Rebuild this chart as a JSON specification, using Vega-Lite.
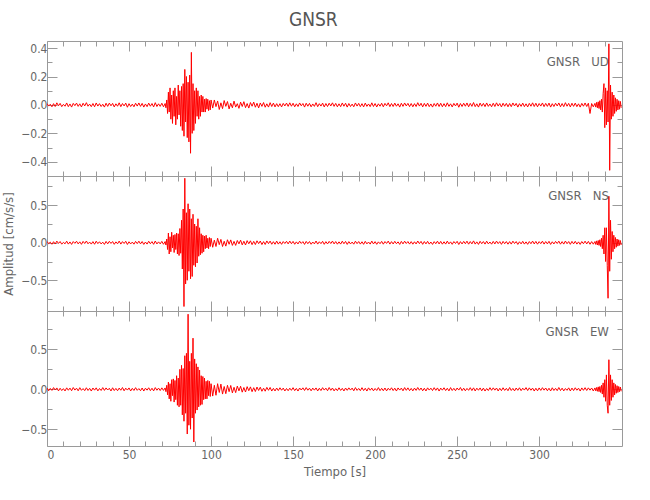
{
"$schema": "https://vega.github.io/schema/vega-lite/v6.json",
"padding": {"left": 2, "top": 10, "right": 5, "bottom": 5},
"title": {"text": "GNSR", "fontSize": 19, "fontWeight": "normal", "color": "#555555", "font": "DejaVu Sans Condensed, DejaVu Sans, sans-serif", "offset": 11, "anchor": "middle"},
"config": {
  "font": "DejaVu Sans Condensed, DejaVu Sans, sans-serif",
  "view": {"stroke": null},
  "axis": {"domainColor": "#9a9a9a", "tickColor": "#9a9a9a", "labelColor": "#666666", "titleColor": "#666666", "labelFontSize": 12, "titleFontSize": 13, "titleFontWeight": "normal", "grid": false, "domainWidth": 1, "tickWidth": 1, "labelFont": "DejaVu Sans Condensed, DejaVu Sans, sans-serif", "titleFont": "DejaVu Sans Condensed, DejaVu Sans, sans-serif"},
  "text": {"font": "DejaVu Sans Condensed, DejaVu Sans, sans-serif", "fontSize": 13, "color": "#666666"}
},
"datasets": {
"ud": [{"t":0,"v":0.01},{"t":1,"v":-0.008},{"t":2,"v":0.005},{"t":3,"v":-0.013},{"t":4,"v":0.009},{"t":5,"v":-0.011},{"t":6,"v":0.015},{"t":7,"v":-0.006},{"t":8,"v":0.011},{"t":9,"v":-0.012},{"t":10,"v":0.004},{"t":11,"v":-0.009},{"t":12,"v":0.014},{"t":13,"v":-0.012},{"t":14,"v":0.007},{"t":15,"v":-0.015},{"t":16,"v":0.011},{"t":17,"v":-0.005},{"t":18,"v":0.013},{"t":19,"v":-0.01},
{"t":20,"v":0.008},{"t":21,"v":-0.014},{"t":22,"v":0.012},{"t":23,"v":-0.007},{"t":24,"v":0.016},{"t":25,"v":-0.009},{"t":26,"v":0.006},{"t":27,"v":-0.012},{"t":28,"v":0.01},{"t":29,"v":-0.013},{"t":30,"v":0.014},{"t":31,"v":-0.008},{"t":32,"v":0.009},{"t":33,"v":-0.011},{"t":34,"v":0.005},{"t":35,"v":-0.015},{"t":36,"v":0.012},{"t":37,"v":-0.01},{"t":38,"v":0.013},{"t":39,"v":-0.006},
{"t":40,"v":0.011},{"t":41,"v":-0.014},{"t":42,"v":0.008},{"t":43,"v":-0.009},{"t":44,"v":0.015},{"t":45,"v":-0.012},{"t":46,"v":0.01},{"t":47,"v":-0.007},{"t":48,"v":0.013},{"t":49,"v":-0.016},{"t":50,"v":0.009},{"t":51,"v":-0.011},{"t":52,"v":0.006},{"t":53,"v":-0.013},{"t":54,"v":0.012},{"t":55,"v":-0.008},{"t":56,"v":0.014},{"t":57,"v":-0.01},{"t":58,"v":0.011},{"t":59,"v":-0.015},
{"t":60,"v":0.007},{"t":61,"v":-0.012},{"t":62,"v":0.013},{"t":63,"v":-0.009},{"t":64,"v":0.01},{"t":65,"v":-0.014},{"t":66,"v":0.016},{"t":67,"v":-0.011},{"t":68,"v":0.008},{"t":69,"v":-0.01},{"t":70,"v":0.012},{"t":71,"v":-0.013},{"t":72,"v":0.01},
{"t":72.5,"v":-0.02},{"t":73,"v":0.035},{"t":73.5,"v":-0.06},{"t":74,"v":0.09},{"t":74.5,"v":-0.05},{"t":75,"v":0.12},{"t":75.5,"v":-0.1},{"t":76,"v":0.07},{"t":76.5,"v":-0.13},{"t":77,"v":0.1},{"t":77.5,"v":-0.08},{"t":78,"v":0.12},{"t":78.5,"v":-0.14},{"t":79,"v":0.06},{"t":79.5,"v":-0.1},{"t":80,"v":0.14},{"t":80.5,"v":-0.07},{"t":81,"v":0.1},{"t":81.5,"v":-0.15},{"t":82,"v":0.13},{"t":82.5,"v":-0.18},{"t":83,"v":0.15},{"t":83.5,"v":-0.22},{"t":84,"v":0.25},{"t":84.5,"v":-0.12},{"t":85,"v":0.2},{"t":85.5,"v":-0.23},{"t":86,"v":0.16},{"t":86.5,"v":-0.26},{"t":87,"v":0.21},{"t":87.5,"v":-0.34},{"t":88,"v":0.37},{"t":88.5,"v":-0.2},{"t":89,"v":0.15},{"t":89.5,"v":-0.18},{"t":90,"v":0.1},{"t":90.5,"v":-0.13},{"t":91,"v":0.12},{"t":91.5,"v":-0.08},{"t":92,"v":0.1},{"t":92.5,"v":-0.1},{"t":93,"v":0.06},{"t":93.5,"v":-0.08},{"t":94,"v":0.07},{"t":94.5,"v":-0.05},{"t":95,"v":0.06},{"t":95.5,"v":-0.05},{"t":96,"v":0.04},{"t":96.5,"v":-0.05},{"t":97,"v":0.045},{"t":97.5,"v":-0.03},{"t":98,"v":0.04},{"t":98.5,"v":-0.04},{"t":99,"v":0.03},{"t":99.5,"v":-0.035},{"t":100,"v":0.035},
{"t":101,"v":-0.022},{"t":102,"v":0.035},{"t":103,"v":-0.012},{"t":104,"v":0.028},{"t":105,"v":-0.032},{"t":106,"v":0.015},{"t":107,"v":-0.026},{"t":108,"v":0.031},{"t":109,"v":-0.01},{"t":110,"v":0.024},{"t":111,"v":-0.028},{"t":112,"v":0.012},{"t":113,"v":-0.02},{"t":114,"v":0.027},{"t":115,"v":-0.015},{"t":116,"v":0.009},{"t":117,"v":-0.024},{"t":118,"v":0.02},{"t":119,"v":-0.011},{"t":120,"v":0.023},{"t":121,"v":-0.019},{"t":122,"v":0.01},{"t":123,"v":-0.022},{"t":124,"v":0.017},{"t":125,"v":-0.009},{"t":126,"v":0.02},{"t":127,"v":-0.016},{"t":128,"v":0.012},{"t":129,"v":-0.021},{"t":130,"v":0.014},{"t":131,"v":-0.01},{"t":132,"v":0.017},{"t":133,"v":-0.016},{"t":134,"v":0.008},{"t":135,"v":-0.015},{"t":136,"v":0.016},{"t":137,"v":-0.011},{"t":138,"v":0.013},{"t":139,"v":-0.014},{"t":140,"v":0.009},
{"t":141,"v":-0.012},{"t":142,"v":0.009},{"t":143,"v":-0.014},{"t":144,"v":0.011},{"t":145,"v":-0.007},{"t":146,"v":0.013},{"t":147,"v":-0.01},{"t":148,"v":0.015},{"t":149,"v":-0.009},{"t":150,"v":0.012},{"t":151,"v":-0.013},{"t":152,"v":0.008},{"t":153,"v":-0.011},{"t":154,"v":0.014},{"t":155,"v":-0.006},{"t":156,"v":0.01},{"t":157,"v":-0.015},{"t":158,"v":0.012},{"t":159,"v":-0.009},{"t":160,"v":0.011},
{"t":161,"v":-0.013},{"t":162,"v":0.007},{"t":163,"v":-0.01},{"t":164,"v":0.016},{"t":165,"v":-0.012},{"t":166,"v":0.009},{"t":167,"v":-0.008},{"t":168,"v":0.013},{"t":169,"v":-0.014},{"t":170,"v":0.01},{"t":171,"v":-0.011},{"t":172,"v":0.012},{"t":173,"v":-0.007},{"t":174,"v":0.015},{"t":175,"v":-0.01},{"t":176,"v":0.011},{"t":177,"v":-0.013},{"t":178,"v":0.008},{"t":179,"v":-0.012},{"t":180,"v":0.014},
{"t":181,"v":-0.009},{"t":182,"v":0.012},{"t":183,"v":-0.015},{"t":184,"v":0.01},{"t":185,"v":-0.011},{"t":186,"v":0.006},{"t":187,"v":-0.013},{"t":188,"v":0.014},{"t":189,"v":-0.008},{"t":190,"v":0.011},{"t":191,"v":-0.012},{"t":192,"v":0.009},{"t":193,"v":-0.014},{"t":194,"v":0.013},{"t":195,"v":-0.01},{"t":196,"v":0.007},{"t":197,"v":-0.012},{"t":198,"v":0.015},{"t":199,"v":-0.011},{"t":200,"v":0.01},
{"t":201,"v":-0.014},{"t":202,"v":0.008},{"t":203,"v":-0.009},{"t":204,"v":0.012},{"t":205,"v":-0.013},{"t":206,"v":0.011},{"t":207,"v":-0.006},{"t":208,"v":0.015},{"t":209,"v":-0.012},{"t":210,"v":0.01},{"t":211,"v":-0.011},{"t":212,"v":0.013},{"t":213,"v":-0.009},{"t":214,"v":0.008},{"t":215,"v":-0.015},{"t":216,"v":0.012},{"t":217,"v":-0.01},{"t":218,"v":0.014},{"t":219,"v":-0.007},{"t":220,"v":0.011},
{"t":221,"v":-0.012},{"t":222,"v":0.01},{"t":223,"v":-0.013},{"t":224,"v":0.009},{"t":225,"v":-0.011},{"t":226,"v":0.016},{"t":227,"v":-0.008},{"t":228,"v":0.012},{"t":229,"v":-0.014},{"t":230,"v":0.011},{"t":231,"v":-0.01},{"t":232,"v":0.013},{"t":233,"v":-0.012},{"t":234,"v":0.007},{"t":235,"v":-0.015},{"t":236,"v":0.01},{"t":237,"v":-0.009},{"t":238,"v":0.014},{"t":239,"v":-0.011},{"t":240,"v":0.012},
{"t":241,"v":-0.013},{"t":242,"v":0.009},{"t":243,"v":-0.012},{"t":244,"v":0.015},{"t":245,"v":-0.01},{"t":246,"v":0.008},{"t":247,"v":-0.014},{"t":248,"v":0.011},{"t":249,"v":-0.007},{"t":250,"v":0.013},{"t":251,"v":-0.016},{"t":252,"v":0.01},{"t":253,"v":-0.011},{"t":254,"v":0.012},{"t":255,"v":-0.009},{"t":256,"v":0.014},{"t":257,"v":-0.013},{"t":258,"v":0.011},{"t":259,"v":-0.01},{"t":260,"v":0.017},
{"t":261,"v":-0.012},{"t":262,"v":0.008},{"t":263,"v":-0.015},{"t":264,"v":0.013},{"t":265,"v":-0.009},{"t":266,"v":0.011},{"t":267,"v":-0.012},{"t":268,"v":0.014},{"t":269,"v":-0.01},{"t":270,"v":0.007},{"t":271,"v":-0.013},{"t":272,"v":0.012},{"t":273,"v":-0.011},{"t":274,"v":0.015},{"t":275,"v":-0.008},{"t":276,"v":0.01},{"t":277,"v":-0.014},{"t":278,"v":0.012},{"t":279,"v":-0.009},{"t":280,"v":0.011},
{"t":281,"v":-0.013},{"t":282,"v":0.01},{"t":283,"v":-0.012},{"t":284,"v":0.014},{"t":285,"v":-0.007},{"t":286,"v":0.011},{"t":287,"v":-0.015},{"t":288,"v":0.009},{"t":289,"v":-0.01},{"t":290,"v":0.013},{"t":291,"v":-0.012},{"t":292,"v":0.008},{"t":293,"v":-0.014},{"t":294,"v":0.011},{"t":295,"v":-0.009},{"t":296,"v":0.015},{"t":297,"v":-0.011},{"t":298,"v":0.012},{"t":299,"v":-0.013},{"t":300,"v":0.01},
{"t":301,"v":-0.008},{"t":302,"v":0.014},{"t":303,"v":-0.012},{"t":304,"v":0.011},{"t":305,"v":-0.01},{"t":306,"v":0.013},{"t":307,"v":-0.015},{"t":308,"v":0.009},{"t":309,"v":-0.011},{"t":310,"v":0.012},{"t":311,"v":-0.007},{"t":312,"v":0.014},{"t":313,"v":-0.013},{"t":314,"v":0.01},{"t":315,"v":-0.012},{"t":316,"v":0.016},{"t":317,"v":-0.009},{"t":318,"v":0.011},{"t":319,"v":-0.014},{"t":320,"v":0.012},
{"t":321,"v":-0.01},{"t":322,"v":0.013},{"t":323,"v":-0.012},{"t":324,"v":0.008},{"t":325,"v":-0.015},{"t":326,"v":0.011},{"t":327,"v":-0.009},{"t":328,"v":0.014},{"t":329,"v":-0.011},{"t":330,"v":0.012},{"t":331,"v":-0.06},{"t":332,"v":0.01},{"t":333,"v":-0.013},{"t":334,"v":0.011},
{"t":334.5,"v":-0.015},{"t":335,"v":0.018},{"t":335.5,"v":-0.02},{"t":336,"v":0.022},{"t":336.5,"v":-0.025},{"t":337,"v":0.03},{"t":337.5,"v":-0.035},{"t":338,"v":0.04},{"t":338.5,"v":-0.05},{"t":339,"v":0.08},{"t":339.5,"v":0.15},{"t":340,"v":-0.16},{"t":340.5,"v":0.12},{"t":341,"v":-0.14},{"t":341.5,"v":0.1},{"t":342,"v":-0.12},{"t":342.5,"v":0.43},{"t":343,"v":-0.46},{"t":343.5,"v":0.14},{"t":344,"v":-0.1},{"t":344.5,"v":0.09},{"t":345,"v":-0.08},{"t":345.5,"v":0.07},{"t":346,"v":-0.06},{"t":346.5,"v":0.05},{"t":347,"v":-0.045},{"t":347.5,"v":0.04},{"t":348,"v":-0.035},{"t":348.5,"v":0.03},{"t":349,"v":-0.03},{"t":349.5,"v":0.025},{"t":350,"v":-0.02}],
"ns": [{"t":0,"v":0.018},{"t":1,"v":-0.012},{"t":2,"v":0.008},{"t":3,"v":-0.02},{"t":4,"v":0.014},{"t":5,"v":-0.017},{"t":6,"v":0.022},{"t":7,"v":-0.009},{"t":8,"v":0.016},{"t":9,"v":-0.019},{"t":10,"v":0.006},{"t":11,"v":-0.014},{"t":12,"v":0.021},{"t":13,"v":-0.018},{"t":14,"v":0.011},{"t":15,"v":-0.022},{"t":16,"v":0.016},{"t":17,"v":-0.008},{"t":18,"v":0.02},{"t":19,"v":-0.015},
{"t":20,"v":0.012},{"t":21,"v":-0.021},{"t":22,"v":0.018},{"t":23,"v":-0.01},{"t":24,"v":0.023},{"t":25,"v":-0.014},{"t":26,"v":0.009},{"t":27,"v":-0.018},{"t":28,"v":0.015},{"t":29,"v":-0.02},{"t":30,"v":0.021},{"t":31,"v":-0.012},{"t":32,"v":0.013},{"t":33,"v":-0.016},{"t":34,"v":0.008},{"t":35,"v":-0.022},{"t":36,"v":0.018},{"t":37,"v":-0.015},{"t":38,"v":0.019},{"t":39,"v":-0.009},
{"t":40,"v":0.016},{"t":41,"v":-0.021},{"t":42,"v":0.012},{"t":43,"v":-0.014},{"t":44,"v":0.022},{"t":45,"v":-0.018},{"t":46,"v":0.015},{"t":47,"v":-0.01},{"t":48,"v":0.02},{"t":49,"v":-0.023},{"t":50,"v":0.013},{"t":51,"v":-0.016},{"t":52,"v":0.009},{"t":53,"v":-0.019},{"t":54,"v":0.018},{"t":55,"v":-0.012},{"t":56,"v":0.021},{"t":57,"v":-0.015},{"t":58,"v":0.016},{"t":59,"v":-0.022},
{"t":60,"v":0.01},{"t":61,"v":-0.018},{"t":62,"v":0.02},{"t":63,"v":-0.013},{"t":64,"v":0.015},{"t":65,"v":-0.021},{"t":66,"v":0.023},{"t":67,"v":-0.016},{"t":68,"v":0.012},{"t":69,"v":-0.015},{"t":70,"v":0.018},{"t":71,"v":-0.02},{"t":72,"v":0.016},
{"t":72.5,"v":-0.03},{"t":73,"v":0.05},{"t":73.5,"v":-0.09},{"t":74,"v":0.13},{"t":74.5,"v":-0.15},{"t":75,"v":0.08},{"t":75.5,"v":-0.12},{"t":76,"v":0.14},{"t":76.5,"v":-0.07},{"t":77,"v":0.1},{"t":77.5,"v":-0.13},{"t":78,"v":0.11},{"t":78.5,"v":-0.09},{"t":79,"v":0.13},{"t":79.5,"v":-0.15},{"t":80,"v":0.12},{"t":80.5,"v":-0.17},{"t":81,"v":0.19},{"t":81.5,"v":-0.14},{"t":82,"v":0.3},{"t":82.5,"v":-0.35},{"t":83,"v":0.45},{"t":83.5,"v":-0.85},{"t":84,"v":0.86},{"t":84.5,"v":-0.55},{"t":85,"v":0.4},{"t":85.5,"v":-0.5},{"t":86,"v":0.52},{"t":86.5,"v":-0.38},{"t":87,"v":0.45},{"t":87.5,"v":-0.48},{"t":88,"v":0.32},{"t":88.5,"v":-0.45},{"t":89,"v":0.38},{"t":89.5,"v":-0.3},{"t":90,"v":0.25},{"t":90.5,"v":-0.32},{"t":91,"v":0.22},{"t":91.5,"v":-0.27},{"t":92,"v":0.32},{"t":92.5,"v":-0.18},{"t":93,"v":0.2},{"t":93.5,"v":-0.16},{"t":94,"v":0.12},{"t":94.5,"v":-0.14},{"t":95,"v":0.1},{"t":95.5,"v":-0.12},{"t":96,"v":0.09},{"t":96.5,"v":-0.08},{"t":97,"v":0.1},{"t":97.5,"v":-0.07},{"t":98,"v":0.06},{"t":98.5,"v":-0.08},{"t":99,"v":0.07},{"t":99.5,"v":-0.05},{"t":100,"v":0.06},
{"t":101,"v":-0.06},{"t":102,"v":0.035},{"t":103,"v":-0.05},{"t":104,"v":0.06},{"t":105,"v":-0.025},{"t":106,"v":0.045},{"t":107,"v":-0.05},{"t":108,"v":0.02},{"t":109,"v":-0.045},{"t":110,"v":0.04},{"t":111,"v":-0.02},{"t":112,"v":0.038},{"t":113,"v":-0.035},{"t":114,"v":0.018},{"t":115,"v":-0.035},{"t":116,"v":0.03},{"t":117,"v":-0.015},{"t":118,"v":0.035},{"t":119,"v":-0.028},{"t":120,"v":0.02},{"t":121,"v":-0.03},{"t":122,"v":0.028},{"t":123,"v":-0.014},{"t":124,"v":0.026},{"t":125,"v":-0.025},{"t":126,"v":0.018},{"t":127,"v":-0.024},{"t":128,"v":0.026},{"t":129,"v":-0.012},{"t":130,"v":0.023},{"t":131,"v":-0.024},{"t":132,"v":0.015},{"t":133,"v":-0.023},{"t":134,"v":0.024},{"t":135,"v":-0.012},{"t":136,"v":0.022},{"t":137,"v":-0.02},{"t":138,"v":0.014},{"t":139,"v":-0.02},{"t":140,"v":0.022},
{"t":141,"v":-0.018},{"t":142,"v":0.013},{"t":143,"v":-0.021},{"t":144,"v":0.016},{"t":145,"v":-0.01},{"t":146,"v":0.019},{"t":147,"v":-0.015},{"t":148,"v":0.022},{"t":149,"v":-0.013},{"t":150,"v":0.018},{"t":151,"v":-0.02},{"t":152,"v":0.012},{"t":153,"v":-0.016},{"t":154,"v":0.021},{"t":155,"v":-0.009},{"t":156,"v":0.015},{"t":157,"v":-0.022},{"t":158,"v":0.018},{"t":159,"v":-0.013},{"t":160,"v":0.016},
{"t":161,"v":-0.02},{"t":162,"v":0.01},{"t":163,"v":-0.015},{"t":164,"v":0.023},{"t":165,"v":-0.018},{"t":166,"v":0.013},{"t":167,"v":-0.012},{"t":168,"v":0.019},{"t":169,"v":-0.021},{"t":170,"v":0.015},{"t":171,"v":-0.016},{"t":172,"v":0.018},{"t":173,"v":-0.01},{"t":174,"v":0.022},{"t":175,"v":-0.015},{"t":176,"v":0.016},{"t":177,"v":-0.019},{"t":178,"v":0.012},{"t":179,"v":-0.018},{"t":180,"v":0.021},
{"t":181,"v":-0.013},{"t":182,"v":0.018},{"t":183,"v":-0.022},{"t":184,"v":0.015},{"t":185,"v":-0.016},{"t":186,"v":0.009},{"t":187,"v":-0.019},{"t":188,"v":0.021},{"t":189,"v":-0.012},{"t":190,"v":0.016},{"t":191,"v":-0.018},{"t":192,"v":0.013},{"t":193,"v":-0.021},{"t":194,"v":0.019},{"t":195,"v":-0.015},{"t":196,"v":0.01},{"t":197,"v":-0.018},{"t":198,"v":0.022},{"t":199,"v":-0.016},{"t":200,"v":0.015},
{"t":201,"v":-0.021},{"t":202,"v":0.012},{"t":203,"v":-0.013},{"t":204,"v":0.018},{"t":205,"v":-0.019},{"t":206,"v":0.016},{"t":207,"v":-0.009},{"t":208,"v":0.022},{"t":209,"v":-0.018},{"t":210,"v":0.015},{"t":211,"v":-0.016},{"t":212,"v":0.019},{"t":213,"v":-0.013},{"t":214,"v":0.012},{"t":215,"v":-0.022},{"t":216,"v":0.018},{"t":217,"v":-0.015},{"t":218,"v":0.021},{"t":219,"v":-0.01},{"t":220,"v":0.016},
{"t":221,"v":-0.018},{"t":222,"v":0.015},{"t":223,"v":-0.019},{"t":224,"v":0.013},{"t":225,"v":-0.016},{"t":226,"v":0.023},{"t":227,"v":-0.012},{"t":228,"v":0.018},{"t":229,"v":-0.021},{"t":230,"v":0.016},{"t":231,"v":-0.015},{"t":232,"v":0.019},{"t":233,"v":-0.018},{"t":234,"v":0.01},{"t":235,"v":-0.022},{"t":236,"v":0.015},{"t":237,"v":-0.013},{"t":238,"v":0.021},{"t":239,"v":-0.016},{"t":240,"v":0.018},
{"t":241,"v":-0.019},{"t":242,"v":0.013},{"t":243,"v":-0.018},{"t":244,"v":0.022},{"t":245,"v":-0.015},{"t":246,"v":0.012},{"t":247,"v":-0.021},{"t":248,"v":0.016},{"t":249,"v":-0.01},{"t":250,"v":0.019},{"t":251,"v":-0.023},{"t":252,"v":0.015},{"t":253,"v":-0.016},{"t":254,"v":0.018},{"t":255,"v":-0.013},{"t":256,"v":0.021},{"t":257,"v":-0.019},{"t":258,"v":0.016},{"t":259,"v":-0.015},{"t":260,"v":0.025},
{"t":261,"v":-0.018},{"t":262,"v":0.012},{"t":263,"v":-0.022},{"t":264,"v":0.019},{"t":265,"v":-0.013},{"t":266,"v":0.016},{"t":267,"v":-0.018},{"t":268,"v":0.021},{"t":269,"v":-0.015},{"t":270,"v":0.01},{"t":271,"v":-0.019},{"t":272,"v":0.018},{"t":273,"v":-0.016},{"t":274,"v":0.022},{"t":275,"v":-0.012},{"t":276,"v":0.015},{"t":277,"v":-0.021},{"t":278,"v":0.018},{"t":279,"v":-0.013},{"t":280,"v":0.016},
{"t":281,"v":-0.019},{"t":282,"v":0.015},{"t":283,"v":-0.018},{"t":284,"v":0.021},{"t":285,"v":-0.01},{"t":286,"v":0.016},{"t":287,"v":-0.022},{"t":288,"v":0.013},{"t":289,"v":-0.015},{"t":290,"v":0.019},{"t":291,"v":-0.018},{"t":292,"v":0.012},{"t":293,"v":-0.021},{"t":294,"v":0.016},{"t":295,"v":-0.013},{"t":296,"v":0.022},{"t":297,"v":-0.016},{"t":298,"v":0.018},{"t":299,"v":-0.019},{"t":300,"v":0.015},
{"t":301,"v":-0.012},{"t":302,"v":0.021},{"t":303,"v":-0.018},{"t":304,"v":0.016},{"t":305,"v":-0.015},{"t":306,"v":0.019},{"t":307,"v":-0.022},{"t":308,"v":0.013},{"t":309,"v":-0.016},{"t":310,"v":0.018},{"t":311,"v":-0.01},{"t":312,"v":0.021},{"t":313,"v":-0.019},{"t":314,"v":0.015},{"t":315,"v":-0.018},{"t":316,"v":0.023},{"t":317,"v":-0.013},{"t":318,"v":0.016},{"t":319,"v":-0.021},{"t":320,"v":0.018},
{"t":321,"v":-0.015},{"t":322,"v":0.019},{"t":323,"v":-0.018},{"t":324,"v":0.012},{"t":325,"v":-0.022},{"t":326,"v":0.016},{"t":327,"v":-0.013},{"t":328,"v":0.021},{"t":329,"v":-0.016},{"t":330,"v":0.018},{"t":331,"v":-0.02},{"t":332,"v":0.015},{"t":333,"v":-0.019},{"t":334,"v":0.016},
{"t":334.5,"v":-0.022},{"t":335,"v":0.025},{"t":335.5,"v":-0.03},{"t":336,"v":0.03},{"t":336.5,"v":-0.035},{"t":337,"v":0.04},{"t":337.5,"v":-0.05},{"t":338,"v":0.06},{"t":338.5,"v":-0.08},{"t":339,"v":0.1},{"t":339.5,"v":-0.15},{"t":340,"v":0.2},{"t":340.5,"v":-0.25},{"t":341,"v":0.2},{"t":341.5,"v":-0.3},{"t":342,"v":-0.74},{"t":342.5,"v":0.62},{"t":343,"v":-0.38},{"t":343.5,"v":0.3},{"t":344,"v":-0.22},{"t":344.5,"v":0.15},{"t":345,"v":-0.12},{"t":345.5,"v":0.1},{"t":346,"v":-0.08},{"t":346.5,"v":0.07},{"t":347,"v":-0.06},{"t":347.5,"v":0.05},{"t":348,"v":-0.045},{"t":348.5,"v":0.04},{"t":349,"v":-0.035},{"t":349.5,"v":0.03},{"t":350,"v":-0.03}],
"ew": [{"t":0,"v":0.016},{"t":1,"v":-0.019},{"t":2,"v":0.011},{"t":3,"v":-0.014},{"t":4,"v":0.021},{"t":5,"v":-0.009},{"t":6,"v":0.017},{"t":7,"v":-0.02},{"t":8,"v":0.013},{"t":9,"v":-0.016},{"t":10,"v":0.008},{"t":11,"v":-0.021},{"t":12,"v":0.018},{"t":13,"v":-0.012},{"t":14,"v":0.015},{"t":15,"v":-0.018},{"t":16,"v":0.022},{"t":17,"v":-0.01},{"t":18,"v":0.014},{"t":19,"v":-0.019},
{"t":20,"v":0.02},{"t":21,"v":-0.013},{"t":22,"v":0.009},{"t":23,"v":-0.017},{"t":24,"v":0.019},{"t":25,"v":-0.015},{"t":26,"v":0.012},{"t":27,"v":-0.022},{"t":28,"v":0.016},{"t":29,"v":-0.011},{"t":30,"v":0.018},{"t":31,"v":-0.02},{"t":32,"v":0.01},{"t":33,"v":-0.015},{"t":34,"v":0.021},{"t":35,"v":-0.014},{"t":36,"v":0.017},{"t":37,"v":-0.009},{"t":38,"v":0.013},{"t":39,"v":-0.021},
{"t":40,"v":0.019},{"t":41,"v":-0.016},{"t":42,"v":0.011},{"t":43,"v":-0.018},{"t":44,"v":0.015},{"t":45,"v":-0.012},{"t":46,"v":0.022},{"t":47,"v":-0.019},{"t":48,"v":0.014},{"t":49,"v":-0.01},{"t":50,"v":0.017},{"t":51,"v":-0.021},{"t":52,"v":0.012},{"t":53,"v":-0.015},{"t":54,"v":0.02},{"t":55,"v":-0.013},{"t":56,"v":0.009},{"t":57,"v":-0.018},{"t":58,"v":0.016},{"t":59,"v":-0.022},
{"t":60,"v":0.014},{"t":61,"v":-0.011},{"t":62,"v":0.019},{"t":63,"v":-0.017},{"t":64,"v":0.013},{"t":65,"v":-0.02},{"t":66,"v":0.021},{"t":67,"v":-0.012},{"t":68,"v":0.015},{"t":69,"v":-0.016},{"t":70,"v":0.018},{"t":71,"v":-0.014},{"t":72,"v":0.017},
{"t":72.5,"v":-0.03},{"t":73,"v":0.05},{"t":73.5,"v":-0.07},{"t":74,"v":0.09},{"t":74.5,"v":-0.12},{"t":75,"v":0.07},{"t":75.5,"v":-0.15},{"t":76,"v":0.12},{"t":76.5,"v":-0.08},{"t":77,"v":0.13},{"t":77.5,"v":-0.16},{"t":78,"v":0.11},{"t":78.5,"v":-0.13},{"t":79,"v":0.17},{"t":79.5,"v":-0.2},{"t":80,"v":0.14},{"t":80.5,"v":-0.22},{"t":81,"v":0.25},{"t":81.5,"v":-0.2},{"t":82,"v":0.3},{"t":82.5,"v":-0.32},{"t":83,"v":0.26},{"t":83.5,"v":-0.4},{"t":84,"v":0.42},{"t":84.5,"v":-0.3},{"t":85,"v":0.45},{"t":85.5,"v":-0.56},{"t":86,"v":0.94},{"t":86.5,"v":-0.45},{"t":87,"v":0.35},{"t":87.5,"v":-0.5},{"t":88,"v":0.45},{"t":88.5,"v":-0.36},{"t":89,"v":0.64},{"t":89.5,"v":-0.66},{"t":90,"v":0.38},{"t":90.5,"v":-0.3},{"t":91,"v":0.32},{"t":91.5,"v":-0.26},{"t":92,"v":0.28},{"t":92.5,"v":-0.22},{"t":93,"v":0.24},{"t":93.5,"v":-0.2},{"t":94,"v":0.17},{"t":94.5,"v":-0.19},{"t":95,"v":0.16},{"t":95.5,"v":-0.13},{"t":96,"v":0.14},{"t":96.5,"v":-0.12},{"t":97,"v":0.1},{"t":97.5,"v":-0.12},{"t":98,"v":0.11},{"t":98.5,"v":-0.08},{"t":99,"v":0.1},{"t":99.5,"v":-0.09},{"t":100,"v":0.07},
{"t":101,"v":-0.085},{"t":102,"v":0.05},{"t":103,"v":-0.075},{"t":104,"v":0.07},{"t":105,"v":-0.04},{"t":106,"v":0.065},{"t":107,"v":-0.06},{"t":108,"v":0.035},{"t":109,"v":-0.055},{"t":110,"v":0.05},{"t":111,"v":-0.03},{"t":112,"v":0.048},{"t":113,"v":-0.045},{"t":114,"v":0.025},{"t":115,"v":-0.042},{"t":116,"v":0.04},{"t":117,"v":-0.02},{"t":118,"v":0.038},{"t":119,"v":-0.036},{"t":120,"v":0.022},{"t":121,"v":-0.034},{"t":122,"v":0.033},{"t":123,"v":-0.018},{"t":124,"v":0.03},{"t":125,"v":-0.03},{"t":126,"v":0.02},{"t":127,"v":-0.028},{"t":128,"v":0.028},{"t":129,"v":-0.015},{"t":130,"v":0.026},{"t":131,"v":-0.025},{"t":132,"v":0.014},{"t":133,"v":-0.024},{"t":134,"v":0.024},{"t":135,"v":-0.013},{"t":136,"v":0.023},{"t":137,"v":-0.022},{"t":138,"v":0.012},{"t":139,"v":-0.021},{"t":140,"v":0.016},
{"t":141,"v":-0.016},{"t":142,"v":0.019},{"t":143,"v":-0.012},{"t":144,"v":0.015},{"t":145,"v":-0.021},{"t":146,"v":0.01},{"t":147,"v":-0.018},{"t":148,"v":0.014},{"t":149,"v":-0.013},{"t":150,"v":0.02},{"t":151,"v":-0.017},{"t":152,"v":0.011},{"t":153,"v":-0.022},{"t":154,"v":0.016},{"t":155,"v":-0.009},{"t":156,"v":0.018},{"t":157,"v":-0.015},{"t":158,"v":0.021},{"t":159,"v":-0.012},{"t":160,"v":0.014},
{"t":161,"v":-0.019},{"t":162,"v":0.015},{"t":163,"v":-0.011},{"t":164,"v":0.017},{"t":165,"v":-0.021},{"t":166,"v":0.013},{"t":167,"v":-0.016},{"t":168,"v":0.02},{"t":169,"v":-0.01},{"t":170,"v":0.014},{"t":171,"v":-0.018},{"t":172,"v":0.022},{"t":173,"v":-0.013},{"t":174,"v":0.016},{"t":175,"v":-0.02},{"t":176,"v":0.009},{"t":177,"v":-0.017},{"t":178,"v":0.019},{"t":179,"v":-0.014},{"t":180,"v":0.012},
{"t":181,"v":-0.021},{"t":182,"v":0.016},{"t":183,"v":-0.013},{"t":184,"v":0.018},{"t":185,"v":-0.01},{"t":186,"v":0.015},{"t":187,"v":-0.019},{"t":188,"v":0.021},{"t":189,"v":-0.014},{"t":190,"v":0.011},{"t":191,"v":-0.017},{"t":192,"v":0.02},{"t":193,"v":-0.016},{"t":194,"v":0.013},{"t":195,"v":-0.022},{"t":196,"v":0.018},{"t":197,"v":-0.012},{"t":198,"v":0.015},{"t":199,"v":-0.019},{"t":200,"v":0.01},
{"t":201,"v":-0.015},{"t":202,"v":0.021},{"t":203,"v":-0.017},{"t":204,"v":0.012},{"t":205,"v":-0.018},{"t":206,"v":0.016},{"t":207,"v":-0.02},{"t":208,"v":0.013},{"t":209,"v":-0.011},{"t":210,"v":0.019},{"t":211,"v":-0.016},{"t":212,"v":0.014},{"t":213,"v":-0.022},{"t":214,"v":0.017},{"t":215,"v":-0.01},{"t":216,"v":0.015},{"t":217,"v":-0.019},{"t":218,"v":0.021},{"t":219,"v":-0.013},{"t":220,"v":0.018},
{"t":221,"v":-0.017},{"t":222,"v":0.011},{"t":223,"v":-0.02},{"t":224,"v":0.015},{"t":225,"v":-0.014},{"t":226,"v":0.022},{"t":227,"v":-0.012},{"t":228,"v":0.016},{"t":229,"v":-0.019},{"t":230,"v":0.013},{"t":231,"v":-0.021},{"t":232,"v":0.018},{"t":233,"v":-0.01},{"t":234,"v":0.014},{"t":235,"v":-0.016},{"t":236,"v":0.02},{"t":237,"v":-0.013},{"t":238,"v":0.017},{"t":239,"v":-0.022},{"t":240,"v":0.015},
{"t":241,"v":-0.011},{"t":242,"v":0.019},{"t":243,"v":-0.016},{"t":244,"v":0.013},{"t":245,"v":-0.02},{"t":246,"v":0.021},{"t":247,"v":-0.015},{"t":248,"v":0.012},{"t":249,"v":-0.018},{"t":250,"v":0.016},{"t":251,"v":-0.01},{"t":252,"v":0.022},{"t":253,"v":-0.017},{"t":254,"v":0.014},{"t":255,"v":-0.019},{"t":256,"v":0.011},{"t":257,"v":-0.013},{"t":258,"v":0.02},{"t":259,"v":-0.016},{"t":260,"v":0.018},
{"t":261,"v":-0.021},{"t":262,"v":0.014},{"t":263,"v":-0.012},{"t":264,"v":0.017},{"t":265,"v":-0.019},{"t":266,"v":0.015},{"t":267,"v":-0.022},{"t":268,"v":0.01},{"t":269,"v":-0.016},{"t":270,"v":0.02},{"t":271,"v":-0.013},{"t":272,"v":0.018},{"t":273,"v":-0.011},{"t":274,"v":0.016},{"t":275,"v":-0.021},{"t":276,"v":0.013},{"t":277,"v":-0.017},{"t":278,"v":0.019},{"t":279,"v":-0.014},{"t":280,"v":0.012},
{"t":281,"v":-0.018},{"t":282,"v":0.022},{"t":283,"v":-0.015},{"t":284,"v":0.011},{"t":285,"v":-0.02},{"t":286,"v":0.016},{"t":287,"v":-0.013},{"t":288,"v":0.019},{"t":289,"v":-0.017},{"t":290,"v":0.014},{"t":291,"v":-0.01},{"t":292,"v":0.021},{"t":293,"v":-0.016},{"t":294,"v":0.018},{"t":295,"v":-0.012},{"t":296,"v":0.015},{"t":297,"v":-0.022},{"t":298,"v":0.013},{"t":299,"v":-0.019},{"t":300,"v":0.017},
{"t":301,"v":-0.014},{"t":302,"v":0.02},{"t":303,"v":-0.011},{"t":304,"v":0.016},{"t":305,"v":-0.018},{"t":306,"v":0.013},{"t":307,"v":-0.021},{"t":308,"v":0.019},{"t":309,"v":-0.015},{"t":310,"v":0.012},{"t":311,"v":-0.017},{"t":312,"v":0.022},{"t":313,"v":-0.016},{"t":314,"v":0.014},{"t":315,"v":-0.02},{"t":316,"v":0.01},{"t":317,"v":-0.013},{"t":318,"v":0.018},{"t":319,"v":-0.021},{"t":320,"v":0.015},
{"t":321,"v":-0.016},{"t":322,"v":0.019},{"t":323,"v":-0.012},{"t":324,"v":0.014},{"t":325,"v":-0.022},{"t":326,"v":0.017},{"t":327,"v":-0.013},{"t":328,"v":0.02},{"t":329,"v":-0.015},{"t":330,"v":0.018},{"t":331,"v":-0.011},{"t":332,"v":0.016},{"t":333,"v":-0.021},{"t":334,"v":0.017},
{"t":334.5,"v":-0.02},{"t":335,"v":0.022},{"t":335.5,"v":-0.025},{"t":336,"v":0.03},{"t":336.5,"v":-0.03},{"t":337,"v":0.035},{"t":337.5,"v":-0.04},{"t":338,"v":0.05},{"t":338.5,"v":-0.06},{"t":339,"v":0.08},{"t":339.5,"v":-0.1},{"t":340,"v":0.12},{"t":340.5,"v":-0.15},{"t":341,"v":0.18},{"t":341.5,"v":-0.2},{"t":342,"v":-0.3},{"t":342.5,"v":0.37},{"t":343,"v":-0.2},{"t":343.5,"v":0.18},{"t":344,"v":-0.14},{"t":344.5,"v":0.12},{"t":345,"v":-0.1},{"t":345.5,"v":0.08},{"t":346,"v":-0.07},{"t":346.5,"v":0.06},{"t":347,"v":-0.05},{"t":347.5,"v":0.045},{"t":348,"v":-0.04},{"t":348.5,"v":0.035},{"t":349,"v":-0.03},{"t":349.5,"v":0.028},{"t":350,"v":-0.025}]
},
"spacing": 0,
"bounds": "flush",
"vconcat": [
{
  "width": 575, "height": 135,
  "data": {"name": "ud"},
  "resolve": {"axis": {"x": "independent", "y": "independent"}},
  "layer": [
    {"mark": {"type": "line", "color": "#ff0000", "strokeWidth": 1, "clip": true},
     "encoding": {
       "x": {"field": "t", "type": "quantitative", "scale": {"domain": [0, 350.5], "nice": false, "zero": false},
             "axis": {"orient": "bottom", "values": [0,10,20,30,40,50,60,70,80,90,100,110,120,130,140,150,160,170,180,190,200,210,220,230,240,250,260,270,280,290,300,310,320,330,340], "labels": false, "title": null, "tickSize": {"condition": {"test": "datum.value % 50 === 0", "value": -10}, "value": -5}}},
       "y": {"field": "v", "type": "quantitative", "scale": {"domain": [-0.5, 0.45], "nice": false, "zero": false},
             "axis": {"orient": "left", "values": [-0.4,-0.3,-0.2,-0.1,0,0.1,0.2,0.3,0.4], "format": ".1f", "title": null, "labelPadding": 10, "labelExpr": "abs(datum.value*5 - round(datum.value*5)) < 0.01 ? datum.label : ''", "tickSize": {"condition": {"test": "abs(datum.value*5 - round(datum.value*5)) < 0.01", "value": -10}, "value": -5}}}
     }},
    {"mark": {"type": "point", "opacity": 0},
     "encoding": {
       "x": {"field": "t", "type": "quantitative",
             "axis": {"orient": "top", "values": [0,10,20,30,40,50,60,70,80,90,100,110,120,130,140,150,160,170,180,190,200,210,220,230,240,250,260,270,280,290,300,310,320,330,340], "labels": false, "title": null, "tickSize": {"condition": {"test": "datum.value % 50 === 0", "value": -10}, "value": -5}}},
       "y": {"field": "v", "type": "quantitative",
             "axis": {"orient": "right", "values": [-0.4,-0.3,-0.2,-0.1,0,0.1,0.2,0.3,0.4], "labels": false, "title": null, "tickSize": {"condition": {"test": "abs(datum.value*5 - round(datum.value*5)) < 0.01", "value": -10}, "value": -5}}}
     }},
    {"data": {"values": [{"label": "GNSR\u00a0\u00a0\u00a0UD"}]},
     "mark": {"type": "text", "align": "right", "baseline": "middle"},
     "encoding": {"x": {"datum": 342.5, "type": "quantitative", "axis": null}, "y": {"datum": 0.3, "type": "quantitative", "axis": null}, "text": {"field": "label"}}}
  ]
},
{
  "width": 575, "height": 135,
  "data": {"name": "ns"},
  "resolve": {"axis": {"x": "independent", "y": "independent"}},
  "layer": [
    {"mark": {"type": "line", "color": "#ff0000", "strokeWidth": 1, "clip": true},
     "encoding": {
       "x": {"field": "t", "type": "quantitative", "scale": {"domain": [0, 350.5], "nice": false, "zero": false},
             "axis": {"orient": "bottom", "values": [0,10,20,30,40,50,60,70,80,90,100,110,120,130,140,150,160,170,180,190,200,210,220,230,240,250,260,270,280,290,300,310,320,330,340], "labels": false, "title": null, "tickSize": {"condition": {"test": "datum.value % 50 === 0", "value": -10}, "value": -5}}},
       "y": {"field": "v", "type": "quantitative", "scale": {"domain": [-0.91, 0.89], "nice": false, "zero": false},
             "axis": {"orient": "left", "values": [-0.75,-0.5,-0.25,0,0.25,0.5,0.75], "format": ".1f", "title": "Amplitud [cm/s/s]", "titlePadding": 5, "labelPadding": 10, "labelExpr": "abs(datum.value*2 - round(datum.value*2)) < 0.01 ? datum.label : ''", "tickSize": {"condition": {"test": "abs(datum.value*2 - round(datum.value*2)) < 0.01", "value": -10}, "value": -5}}}
     }},
    {"mark": {"type": "point", "opacity": 0},
     "encoding": {
       "x": {"field": "t", "type": "quantitative",
             "axis": {"orient": "top", "values": [0,10,20,30,40,50,60,70,80,90,100,110,120,130,140,150,160,170,180,190,200,210,220,230,240,250,260,270,280,290,300,310,320,330,340], "labels": false, "title": null, "tickSize": {"condition": {"test": "datum.value % 50 === 0", "value": -10}, "value": -5}}},
       "y": {"field": "v", "type": "quantitative",
             "axis": {"orient": "right", "values": [-0.75,-0.5,-0.25,0,0.25,0.5,0.75], "labels": false, "title": null, "tickSize": {"condition": {"test": "abs(datum.value*2 - round(datum.value*2)) < 0.01", "value": -10}, "value": -5}}}
     }},
    {"data": {"values": [{"label": "GNSR\u00a0\u00a0\u00a0NS"}]},
     "mark": {"type": "text", "align": "right", "baseline": "middle"},
     "encoding": {"x": {"datum": 342.5, "type": "quantitative", "axis": null}, "y": {"datum": 0.62, "type": "quantitative", "axis": null}, "text": {"field": "label"}}}
  ]
},
{
  "width": 575, "height": 135,
  "data": {"name": "ew"},
  "resolve": {"axis": {"x": "independent", "y": "independent"}},
  "layer": [
    {"mark": {"type": "line", "color": "#ff0000", "strokeWidth": 1, "clip": true},
     "encoding": {
       "x": {"field": "t", "type": "quantitative", "scale": {"domain": [0, 350.5], "nice": false, "zero": false},
             "axis": {"orient": "bottom", "values": [0,10,20,30,40,50,60,70,80,90,100,110,120,130,140,150,160,170,180,190,200,210,220,230,240,250,260,270,280,290,300,310,320,330,340], "format": "d", "title": "Tiempo [s]", "titlePadding": 5, "labelPadding": 13, "labelExpr": "datum.value % 50 === 0 ? datum.label : ''", "tickSize": {"condition": {"test": "datum.value % 50 === 0", "value": -10}, "value": -5}}},
       "y": {"field": "v", "type": "quantitative", "scale": {"domain": [-0.71, 0.98], "nice": false, "zero": false},
             "axis": {"orient": "left", "values": [-0.5,-0.25,0,0.25,0.5,0.75], "format": ".1f", "title": null, "labelPadding": 10, "labelExpr": "abs(datum.value*2 - round(datum.value*2)) < 0.01 ? datum.label : ''", "tickSize": {"condition": {"test": "abs(datum.value*2 - round(datum.value*2)) < 0.01", "value": -10}, "value": -5}}}
     }},
    {"mark": {"type": "point", "opacity": 0},
     "encoding": {
       "x": {"field": "t", "type": "quantitative",
             "axis": {"orient": "top", "values": [0,10,20,30,40,50,60,70,80,90,100,110,120,130,140,150,160,170,180,190,200,210,220,230,240,250,260,270,280,290,300,310,320,330,340], "labels": false, "title": null, "tickSize": {"condition": {"test": "datum.value % 50 === 0", "value": -10}, "value": -5}}},
       "y": {"field": "v", "type": "quantitative",
             "axis": {"orient": "right", "values": [-0.5,-0.25,0,0.25,0.5,0.75], "labels": false, "title": null, "tickSize": {"condition": {"test": "abs(datum.value*2 - round(datum.value*2)) < 0.01", "value": -10}, "value": -5}}}
     }},
    {"data": {"values": [{"label": "GNSR\u00a0\u00a0\u00a0EW"}]},
     "mark": {"type": "text", "align": "right", "baseline": "middle"},
     "encoding": {"x": {"datum": 342.5, "type": "quantitative", "axis": null}, "y": {"datum": 0.72, "type": "quantitative", "axis": null}, "text": {"field": "label"}}}
  ]
}
]
}
